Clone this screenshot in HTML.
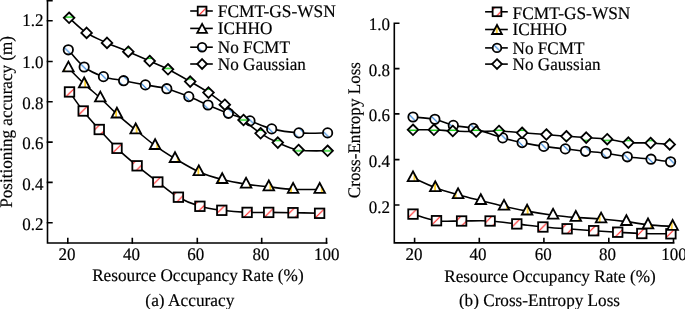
<!DOCTYPE html>
<html><head><meta charset="utf-8"><style>html,body{margin:0;padding:0;background:#fff;width:685px;height:309px;overflow:hidden}svg{display:block;will-change:transform}</style></head><body>
<svg width="685" height="309" viewBox="0 0 685 309">
<defs><pattern id="hh" patternUnits="userSpaceOnUse" width="10.29" height="10.29"><rect width="11.29" height="11.29" fill="#fff"/><path d="M-1 6.8H11.29" stroke="#1cd41c" stroke-width="1.5"/></pattern><pattern id="hv" patternUnits="userSpaceOnUse" width="10.29" height="10.29"><rect width="11.29" height="11.29" fill="#fff"/><path d="M2.87 -1V11.29" stroke="#ffc800" stroke-width="1.5"/></pattern><pattern id="hs" patternUnits="userSpaceOnUse" width="10.29" height="10.29"><rect width="11.29" height="11.29" fill="#fff"/><path d="M-2 10.4L10.4 -2M6.4 12.29L12.29 6.4" stroke="#ff1414" stroke-width="1.1"/></pattern><pattern id="hb" patternUnits="userSpaceOnUse" width="10.29" height="10.29"><rect width="11.29" height="11.29" fill="#fff"/><path d="M4.45 -2L12.29 5.84M-2 1.84L8.45 12.29" stroke="#2a80d8" stroke-width="1.1"/></pattern></defs>
<style>text{font-family:"Liberation Serif",serif;font-size:17px;fill:#000;stroke:#000;stroke-width:0.18px;text-rendering:geometricPrecision}.ax{stroke:#000;stroke-width:1.6;fill:none;stroke-linecap:square}.ln{stroke:#000;stroke-width:1.6;fill:none}.dl path,.dl polyline{stroke:#000;stroke-width:1.6;fill:none;stroke-linejoin:round}.mk *{stroke:#000;stroke-width:1.8;stroke-linejoin:miter}</style>
<path class="ax" d="M47.5 0.7V243H326.6"/><path class="ax" d="M47.5 0.7H51.9M47.5 20.8H51.9M47.5 61.5H51.9M47.5 101.7H51.9M47.5 142.1H51.9M47.5 182.4H51.9M47.5 222.8H51.9M67.8 243V238.6M132.3 243V238.6M197.3 243V238.6M261.7 243V238.6M326.5 243V238.6"/>
<text transform="translate(43.6 25.6) scale(1 1.04)" text-anchor="end">1.2</text>
<text transform="translate(43.6 67.9) scale(1 1.04)" text-anchor="end">1.0</text>
<text transform="translate(43.6 108.8) scale(1 1.04)" text-anchor="end">0.8</text>
<text transform="translate(43.6 149) scale(1 1.04)" text-anchor="end">0.6</text>
<text transform="translate(43.6 189.8) scale(1 1.04)" text-anchor="end">0.4</text>
<text transform="translate(43.6 230) scale(1 1.04)" text-anchor="end">0.2</text>
<text transform="translate(67 259.8) scale(1 1.04)" text-anchor="middle">20</text>
<text transform="translate(131.5 259.8) scale(1 1.04)" text-anchor="middle">40</text>
<text transform="translate(195.8 259.8) scale(1 1.04)" text-anchor="middle">60</text>
<text transform="translate(261.05 259.8) scale(1 1.04)" text-anchor="middle">80</text>
<text transform="translate(326.75 259.8) scale(1 1.04)" text-anchor="middle">100</text>
<text transform="translate(197.9 280.8) scale(1 1.04)" text-anchor="middle" textLength="211.5" lengthAdjust="spacingAndGlyphs">Resource Occupancy Rate (%)</text>
<text transform="translate(189.9 305.9) scale(1 1.04)" text-anchor="middle" textLength="89.1" lengthAdjust="spacingAndGlyphs">(a) Accuracy</text>
<text transform="translate(12.3 121.9) rotate(-90) scale(1 1.04)" text-anchor="middle" textLength="171.7" lengthAdjust="spacingAndGlyphs">Positioning accuracy (m)</text>
<path class="ax" d="M394.3 23.3V242.9H673.7M394.3 23.3H398.7M394.3 68.6H398.7M394.3 113.9H398.7M394.3 159.6H398.7M394.3 205H398.7M414.6 242.9V238.5M479.3 242.9V238.5M543.9 242.9V238.5M608.8 242.9V238.5M673.5 242.9V238.5"/>
<text transform="translate(390 29.7) scale(1 1.04)" text-anchor="end">1.0</text>
<text transform="translate(390 75.7) scale(1 1.04)" text-anchor="end">0.8</text>
<text transform="translate(390 121.3) scale(1 1.04)" text-anchor="end">0.6</text>
<text transform="translate(390 166.6) scale(1 1.04)" text-anchor="end">0.4</text>
<text transform="translate(390 212.6) scale(1 1.04)" text-anchor="end">0.2</text>
<text transform="translate(413.9 259.8) scale(1 1.04)" text-anchor="middle">20</text>
<text transform="translate(477.9 259.8) scale(1 1.04)" text-anchor="middle">40</text>
<text transform="translate(543.2 259.8) scale(1 1.04)" text-anchor="middle">60</text>
<text transform="translate(607.6 259.8) scale(1 1.04)" text-anchor="middle">80</text>
<text transform="translate(673.9 259.8) scale(1 1.04)" text-anchor="middle">100</text>
<text transform="translate(550.05 282) scale(1 1.04)" text-anchor="middle" textLength="211.6" lengthAdjust="spacingAndGlyphs">Resource Occupancy Rate (%)</text>
<text transform="translate(539.45 305.8) scale(1 1.04)" text-anchor="middle" textLength="161.1" lengthAdjust="spacingAndGlyphs">(b) Cross-Entropy Loss</text>
<text transform="translate(359.7 130.1) rotate(-90) scale(1 1.04)" text-anchor="middle" textLength="136.1" lengthAdjust="spacingAndGlyphs">Cross-Entropy Loss</text>
<g class="dl"><path d="M69.5 91.95C71.78 95.12 78.24 104.74 83.2 111C88.16 117.26 93.62 123.28 99.25 129.5C104.88 135.72 110.69 142.25 117 148.3C123.31 154.35 130.3 160.18 137.1 165.8C143.9 171.42 150.92 176.77 157.8 182C164.68 187.23 171.38 193.15 178.4 197.2C185.42 201.25 192.67 204.12 199.9 206.3C207.13 208.48 213.93 209.28 221.8 210.3C229.67 211.32 239.28 212.05 247.1 212.4C254.92 212.75 261.05 212.35 268.7 212.4C276.35 212.45 284.52 212.55 293 212.7C301.48 212.85 315.17 213.2 319.6 213.3"/></g>
<g class="mk"><rect x="64.75" y="87.2" width="9.5" height="9.5" fill="url(#hs)"/><rect x="78.45" y="106.25" width="9.5" height="9.5" fill="url(#hs)"/><rect x="94.5" y="124.75" width="9.5" height="9.5" fill="url(#hs)"/><rect x="112.25" y="143.55" width="9.5" height="9.5" fill="url(#hs)"/><rect x="132.35" y="161.05" width="9.5" height="9.5" fill="url(#hs)"/><rect x="153.05" y="177.25" width="9.5" height="9.5" fill="url(#hs)"/><rect x="173.65" y="192.45" width="9.5" height="9.5" fill="url(#hs)"/><rect x="195.15" y="201.55" width="9.5" height="9.5" fill="url(#hs)"/><rect x="217.05" y="205.55" width="9.5" height="9.5" fill="url(#hs)"/><rect x="242.35" y="207.65" width="9.5" height="9.5" fill="url(#hs)"/><rect x="263.95" y="207.65" width="9.5" height="9.5" fill="url(#hs)"/><rect x="288.25" y="207.95" width="9.5" height="9.5" fill="url(#hs)"/><rect x="314.85" y="208.55" width="9.5" height="9.5" fill="url(#hs)"/></g>
<g class="dl"><path d="M68.4 68C71.03 70.65 78.88 78.9 84.2 83.9C89.52 88.9 94.85 92.97 100.3 98C105.75 103.03 111 108.78 116.9 114.1C122.8 119.42 129.33 124.65 135.7 129.9C142.07 135.15 148.55 140.82 155.1 145.6C161.65 150.38 167.72 154.23 175 158.6C182.28 162.97 190.93 168.3 198.8 171.8C206.67 175.3 214.32 177.53 222.2 179.6C230.08 181.67 238.33 182.98 246.1 184.2C253.87 185.42 260.97 186.03 268.8 186.9C276.63 187.77 284.62 188.98 293.1 189.4C301.58 189.82 315.27 189.4 319.7 189.4"/></g>
<g class="mk"><path d="M68.4 61.6L63.1 71.4L73.7 71.4Z" fill="url(#hv)"/><path d="M84.2 77.5L78.9 87.3L89.5 87.3Z" fill="url(#hv)"/><path d="M100.3 91.6L95 101.4L105.6 101.4Z" fill="url(#hv)"/><path d="M116.9 107.7L111.6 117.5L122.2 117.5Z" fill="url(#hv)"/><path d="M135.7 123.5L130.4 133.3L141 133.3Z" fill="url(#hv)"/><path d="M155.1 139.2L149.8 149L160.4 149Z" fill="url(#hv)"/><path d="M175 152.2L169.7 162L180.3 162Z" fill="url(#hv)"/><path d="M198.8 165.4L193.5 175.2L204.1 175.2Z" fill="url(#hv)"/><path d="M222.2 173.2L216.9 183L227.5 183Z" fill="url(#hv)"/><path d="M246.1 177.8L240.8 187.6L251.4 187.6Z" fill="url(#hv)"/><path d="M268.8 180.5L263.5 190.3L274.1 190.3Z" fill="url(#hv)"/><path d="M293.1 183L287.8 192.8L298.4 192.8Z" fill="url(#hv)"/><path d="M319.7 183L314.4 192.8L325 192.8Z" fill="url(#hv)"/></g>
<g class="dl"><path d="M68.3 49.8C70.94 52.67 78.29 62.52 84.15 67C90.01 71.47 96.88 74.37 103.45 76.65C110.03 78.93 116.61 79.33 123.6 80.7C130.59 82.08 138.2 83.57 145.4 84.9C152.6 86.23 159.57 86.75 166.8 88.7C174.03 90.65 181.93 93.88 188.8 96.6C195.67 99.32 201.4 102.22 208 105C214.6 107.78 221.4 110.65 228.4 113.3C235.4 115.95 242.78 118.3 250 120.9C257.22 123.5 263.55 126.9 271.7 128.9C279.85 130.9 289.58 132.23 298.9 132.9C308.22 133.57 322.82 132.9 327.6 132.9"/></g>
<g class="mk"><circle cx="68.3" cy="49.8" r="4.7" fill="url(#hb)"/><circle cx="84.15" cy="67" r="4.7" fill="url(#hb)"/><circle cx="103.45" cy="76.65" r="4.7" fill="url(#hb)"/><circle cx="123.6" cy="80.7" r="4.7" fill="url(#hb)"/><circle cx="145.4" cy="84.9" r="4.7" fill="url(#hb)"/><circle cx="166.8" cy="88.7" r="4.7" fill="url(#hb)"/><circle cx="188.8" cy="96.6" r="4.7" fill="url(#hb)"/><circle cx="208" cy="105" r="4.7" fill="url(#hb)"/><circle cx="228.4" cy="113.3" r="4.7" fill="url(#hb)"/><circle cx="250" cy="120.9" r="4.7" fill="url(#hb)"/><circle cx="271.7" cy="128.9" r="4.7" fill="url(#hb)"/><circle cx="298.9" cy="132.9" r="4.7" fill="url(#hb)"/><circle cx="327.6" cy="132.9" r="4.7" fill="url(#hb)"/></g>
<g class="dl"><path d="M69.1 17.8C72.02 20.32 80.28 28.72 86.6 32.9C92.92 37.08 100.05 39.77 107 42.9C113.95 46.03 121.18 48.68 128.3 51.7C135.42 54.72 143.08 58.07 149.7 61C156.32 63.93 161.25 65.87 168 69.3C174.75 72.73 183.45 77.72 190.2 81.6C196.95 85.48 202.73 88.75 208.5 92.6C214.27 96.45 218.97 100.13 224.8 104.7C230.63 109.27 237.53 115.23 243.5 120C249.47 124.77 254.88 129.53 260.6 133.3C266.32 137.07 271.47 139.82 277.8 142.6C284.13 145.38 290.3 148.63 298.6 150C306.9 151.37 322.77 150.67 327.6 150.8"/></g>
<g class="mk"><path d="M69.1 12.5L74.4 17.8L69.1 23.1L63.8 17.8Z" fill="url(#hh)"/><path d="M86.6 27.6L91.9 32.9L86.6 38.2L81.3 32.9Z" fill="url(#hh)"/><path d="M107 37.6L112.3 42.9L107 48.2L101.7 42.9Z" fill="url(#hh)"/><path d="M128.3 46.4L133.6 51.7L128.3 57L123 51.7Z" fill="url(#hh)"/><path d="M149.7 55.7L155 61L149.7 66.3L144.4 61Z" fill="url(#hh)"/><path d="M168 64L173.3 69.3L168 74.6L162.7 69.3Z" fill="url(#hh)"/><path d="M190.2 76.3L195.5 81.6L190.2 86.9L184.9 81.6Z" fill="url(#hh)"/><path d="M208.5 87.3L213.8 92.6L208.5 97.9L203.2 92.6Z" fill="url(#hh)"/><path d="M224.8 99.4L230.1 104.7L224.8 110L219.5 104.7Z" fill="url(#hh)"/><path d="M243.5 114.7L248.8 120L243.5 125.3L238.2 120Z" fill="url(#hh)"/><path d="M260.6 128L265.9 133.3L260.6 138.6L255.3 133.3Z" fill="url(#hh)"/><path d="M277.8 137.3L283.1 142.6L277.8 147.9L272.5 142.6Z" fill="url(#hh)"/><path d="M298.6 144.7L303.9 150L298.6 155.3L293.3 150Z" fill="url(#hh)"/><path d="M327.6 145.5L332.9 150.8L327.6 156.1L322.3 150.8Z" fill="url(#hh)"/></g>
<g class="dl"><path d="M413 214.1C416.92 215.2 428.4 219.55 436.5 220.7C444.6 221.85 452.67 220.95 461.6 221C470.53 221.05 480.9 220.52 490.1 221C499.3 221.48 508 222.9 516.8 223.9C525.6 224.9 534.52 226.18 542.9 227C551.28 227.82 558.63 228.18 567.1 228.8C575.57 229.42 585.27 230.13 593.7 230.7C602.13 231.27 609.68 231.73 617.7 232.2C625.72 232.67 632.93 233.23 641.8 233.5C650.67 233.77 666.05 233.75 670.9 233.8"/></g>
<g class="mk"><rect x="408.25" y="209.35" width="9.5" height="9.5" fill="url(#hs)"/><rect x="431.75" y="215.95" width="9.5" height="9.5" fill="url(#hs)"/><rect x="456.85" y="216.25" width="9.5" height="9.5" fill="url(#hs)"/><rect x="485.35" y="216.25" width="9.5" height="9.5" fill="url(#hs)"/><rect x="512.05" y="219.15" width="9.5" height="9.5" fill="url(#hs)"/><rect x="538.15" y="222.25" width="9.5" height="9.5" fill="url(#hs)"/><rect x="562.35" y="224.05" width="9.5" height="9.5" fill="url(#hs)"/><rect x="588.95" y="225.95" width="9.5" height="9.5" fill="url(#hs)"/><rect x="612.95" y="227.45" width="9.5" height="9.5" fill="url(#hs)"/><rect x="637.05" y="228.75" width="9.5" height="9.5" fill="url(#hs)"/><rect x="666.15" y="229.05" width="9.5" height="9.5" fill="url(#hs)"/></g>
<g class="dl"><path d="M413 177.8C416.72 179.45 427.78 184.88 435.3 187.7C442.82 190.52 450.52 192.55 458.1 194.7C465.68 196.85 473.15 198.67 480.8 200.6C488.45 202.53 496.28 204.55 504 206.3C511.72 208.05 518.92 209.62 527.1 211.1C535.28 212.58 544.98 214.15 553.1 215.2C561.22 216.25 567.8 216.77 575.8 217.4C583.8 218.03 592.67 218.3 601.1 219C609.53 219.7 618.58 220.62 626.4 221.6C634.22 222.58 640.3 224.1 648 224.9C655.7 225.7 668.5 226.15 672.6 226.4"/></g>
<g class="mk"><path d="M413 171.4L407.7 181.2L418.3 181.2Z" fill="url(#hv)"/><path d="M435.3 181.3L430 191.1L440.6 191.1Z" fill="url(#hv)"/><path d="M458.1 188.3L452.8 198.1L463.4 198.1Z" fill="url(#hv)"/><path d="M480.8 194.2L475.5 204L486.1 204Z" fill="url(#hv)"/><path d="M504 199.9L498.7 209.7L509.3 209.7Z" fill="url(#hv)"/><path d="M527.1 204.7L521.8 214.5L532.4 214.5Z" fill="url(#hv)"/><path d="M553.1 208.8L547.8 218.6L558.4 218.6Z" fill="url(#hv)"/><path d="M575.8 211L570.5 220.8L581.1 220.8Z" fill="url(#hv)"/><path d="M601.1 212.6L595.8 222.4L606.4 222.4Z" fill="url(#hv)"/><path d="M626.4 215.2L621.1 225L631.7 225Z" fill="url(#hv)"/><path d="M648 218.5L642.7 228.3L653.3 228.3Z" fill="url(#hv)"/><path d="M672.6 220L667.3 229.8L677.9 229.8Z" fill="url(#hv)"/></g>
<g class="dl"><path d="M413 117C416.65 117.38 428.18 117.9 434.9 119.3C441.62 120.7 446.9 123.88 453.3 125.4C459.7 126.92 465.07 126.32 473.3 128.4C481.53 130.48 494.57 135.53 502.7 137.9C510.83 140.27 515.25 141.18 522.1 142.6C528.95 144.02 536.6 145.35 543.8 146.4C551 147.45 558.35 148.08 565.3 148.9C572.25 149.72 578.67 150.57 585.5 151.3C592.33 152.03 599.33 152.38 606.3 153.3C613.27 154.22 619.85 155.82 627.3 156.8C634.75 157.78 643.78 158.37 651 159.2C658.22 160.03 667.33 161.37 670.6 161.8"/></g>
<g class="mk"><circle cx="413" cy="117" r="4.7" fill="url(#hb)"/><circle cx="434.9" cy="119.3" r="4.7" fill="url(#hb)"/><circle cx="453.3" cy="125.4" r="4.7" fill="url(#hb)"/><circle cx="473.3" cy="128.4" r="4.7" fill="url(#hb)"/><circle cx="502.7" cy="137.9" r="4.7" fill="url(#hb)"/><circle cx="522.1" cy="142.6" r="4.7" fill="url(#hb)"/><circle cx="543.8" cy="146.4" r="4.7" fill="url(#hb)"/><circle cx="565.3" cy="148.9" r="4.7" fill="url(#hb)"/><circle cx="585.5" cy="151.3" r="4.7" fill="url(#hb)"/><circle cx="606.3" cy="153.3" r="4.7" fill="url(#hb)"/><circle cx="627.3" cy="156.8" r="4.7" fill="url(#hb)"/><circle cx="651" cy="159.2" r="4.7" fill="url(#hb)"/><circle cx="670.6" cy="161.8" r="4.7" fill="url(#hb)"/></g>
<g class="dl"><path d="M413 129.8C416.48 129.8 427.27 129.6 433.9 129.8C440.53 130 445.77 130.72 452.8 131C459.83 131.28 468.4 131.5 476.1 131.5C483.8 131.5 491.33 130.78 499 131C506.67 131.22 514.2 132.22 522.1 132.8C530 133.38 539.02 133.92 546.4 134.5C553.78 135.08 559.77 135.78 566.4 136.3C573.03 136.82 579.4 137.12 586.2 137.6C593 138.08 600.17 138.37 607.2 139.2C614.23 140.03 621.17 141.97 628.4 142.6C635.63 143.23 643.72 142.7 650.6 143C657.48 143.3 666.52 144.17 669.7 144.4"/></g>
<g class="mk"><path d="M413 124.5L418.3 129.8L413 135.1L407.7 129.8Z" fill="url(#hh)"/><path d="M433.9 124.5L439.2 129.8L433.9 135.1L428.6 129.8Z" fill="url(#hh)"/><path d="M452.8 125.7L458.1 131L452.8 136.3L447.5 131Z" fill="url(#hh)"/><path d="M476.1 126.2L481.4 131.5L476.1 136.8L470.8 131.5Z" fill="url(#hh)"/><path d="M499 125.7L504.3 131L499 136.3L493.7 131Z" fill="url(#hh)"/><path d="M522.1 127.5L527.4 132.8L522.1 138.1L516.8 132.8Z" fill="url(#hh)"/><path d="M546.4 129.2L551.7 134.5L546.4 139.8L541.1 134.5Z" fill="url(#hh)"/><path d="M566.4 131L571.7 136.3L566.4 141.6L561.1 136.3Z" fill="url(#hh)"/><path d="M586.2 132.3L591.5 137.6L586.2 142.9L580.9 137.6Z" fill="url(#hh)"/><path d="M607.2 133.9L612.5 139.2L607.2 144.5L601.9 139.2Z" fill="url(#hh)"/><path d="M628.4 137.3L633.7 142.6L628.4 147.9L623.1 142.6Z" fill="url(#hh)"/><path d="M650.6 137.7L655.9 143L650.6 148.3L645.3 143Z" fill="url(#hh)"/><path d="M669.7 139.1L675 144.4L669.7 149.7L664.4 144.4Z" fill="url(#hh)"/></g>
<path d="M190.2 11H212.8" class="ln"/><g class="mk"><rect x="197.73" y="6.63" width="8.74" height="8.74" fill="url(#hs)"/></g><text transform="translate(217.8 16.5) scale(1 1.04)" textLength="118" lengthAdjust="spacingAndGlyphs">FCMT-GS-WSN</text><path d="M190.2 28.4H212.8" class="ln"/><g class="mk"><path d="M202.1 23.89L197.22 32.91L206.98 32.91Z" fill="url(#hv)"/></g><text transform="translate(217.8 34.4) scale(1 1.04)" textLength="54.6" lengthAdjust="spacingAndGlyphs">ICHHO</text><path d="M190.2 47.2H212.8" class="ln"/><g class="mk"><circle cx="202.1" cy="47.2" r="4.32" fill="url(#hb)"/></g><text transform="translate(217.8 52.8) scale(1 1.04)" textLength="72.1" lengthAdjust="spacingAndGlyphs">No FCMT</text><path d="M190.2 64H212.8" class="ln"/><g class="mk"><path d="M202.1 59.12L206.98 64L202.1 68.88L197.22 64Z" fill="url(#hh)"/></g><text transform="translate(217.8 69.7) scale(1 1.04)" textLength="88.1" lengthAdjust="spacingAndGlyphs">No Gaussian</text>
<path d="M485.1 11.8H507.8" class="ln"/><g class="mk"><rect x="492.63" y="7.43" width="8.74" height="8.74" fill="url(#hs)"/></g><text transform="translate(512.6 19) scale(1 1.04)" textLength="117.8" lengthAdjust="spacingAndGlyphs">FCMT-GS-WSN</text><path d="M485.1 29.5H507.8" class="ln"/><g class="mk"><path d="M497 24.99L492.12 34.01L501.88 34.01Z" fill="url(#hv)"/></g><text transform="translate(512.6 35.1) scale(1 1.04)" textLength="54.4" lengthAdjust="spacingAndGlyphs">ICHHO</text><path d="M485.1 47.9H507.8" class="ln"/><g class="mk"><circle cx="497" cy="47.9" r="4.32" fill="url(#hb)"/></g><text transform="translate(512.6 53.6) scale(1 1.04)" textLength="71.9" lengthAdjust="spacingAndGlyphs">No FCMT</text><path d="M485.1 64.1H507.8" class="ln"/><g class="mk"><path d="M497 59.22L501.88 64.1L497 68.98L492.12 64.1Z" fill="url(#hh)"/></g><text transform="translate(512.6 69.9) scale(1 1.04)" textLength="88" lengthAdjust="spacingAndGlyphs">No Gaussian</text>
</svg>
</body></html>
